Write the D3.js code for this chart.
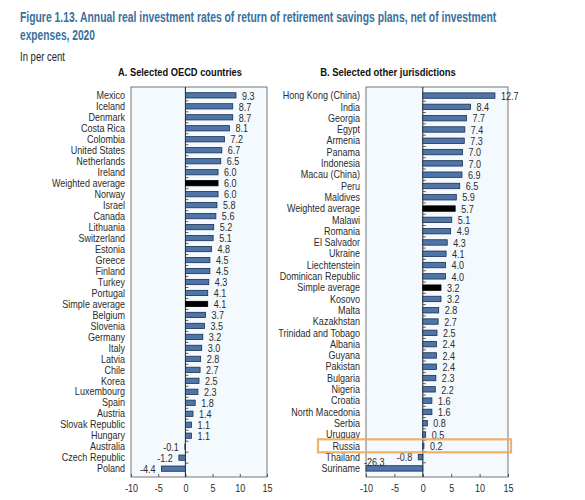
<!DOCTYPE html>
<html lang="en">
<head>
    <meta charset="UTF-8">
    <title>Figure 1.13</title>
    <style>
        body { margin: 0; background: #ffffff; }
        svg text { font-family: "Liberation Sans", Arial, sans-serif; }
    </style>
</head>
<body>
    <div id="chart"></div>

    <script src="https://d3js.org/d3.v7.min.js"></script>
    <script>
        // Panel A: selected OECD countries
        const oecdNames = ["Mexico", "Iceland", "Denmark", "Costa Rica", "Colombia", "United States",
            "Netherlands", "Ireland", "Weighted average", "Norway", "Israel", "Canada", "Lithuania",
            "Switzerland", "Estonia", "Greece", "Finland", "Turkey", "Portugal", "Simple average",
            "Belgium", "Slovenia", "Germany", "Italy", "Latvia", "Chile", "Korea", "Luxembourg",
            "Spain", "Austria", "Slovak Republic", "Hungary", "Australia", "Czech Republic", "Poland"];
        const oecdValues = [9.3, 8.7, 8.7, 8.1, 7.2, 6.7, 6.5, 6.0, 6.0, 6.0, 5.8, 5.6, 5.2, 5.1, 4.8,
            4.5, 4.5, 4.3, 4.1, 4.1, 3.7, 3.5, 3.2, 3.0, 2.8, 2.7, 2.5, 2.3, 1.8, 1.4, 1.1, 1.1,
            -0.1, -1.2, -4.4];

        // Panel B: selected other jurisdictions
        const otherNames = ["Hong Kong (China)", "India", "Georgia", "Egypt", "Armenia", "Panama",
            "Indonesia", "Macau (China)", "Peru", "Maldives", "Weighted average", "Malawi", "Romania",
            "El Salvador", "Ukraine", "Liechtenstein", "Dominican Republic", "Simple average", "Kosovo",
            "Malta", "Kazakhstan", "Trinidad and Tobago", "Albania", "Guyana", "Pakistan", "Bulgaria",
            "Nigeria", "Croatia", "North Macedonia", "Serbia", "Uruguay", "Russia", "Thailand", "Suriname"];
        const otherValues = [12.7, 8.4, 7.7, 7.4, 7.3, 7.0, 7.0, 6.9, 6.5, 5.9, 5.7, 5.1, 4.9, 4.3,
            4.1, 4.0, 4.0, 3.2, 3.2, 2.8, 2.7, 2.5, 2.4, 2.4, 2.4, 2.3, 2.2, 1.6, 1.6, 0.8, 0.5,
            0.2, -0.8, -26.3];

        const xTicks = [-10, -5, 0, 5, 10, 15];
        const highlighted = "Russia";

        // plain hyphen for negatives, like the original
        const loc = d3.formatLocale({ decimal: ".", thousands: ",", grouping: [3], currency: ["", ""], minus: "-" });
        const fmtVal = loc.format(".1f");
        const fmtTick = loc.format("d");

        const width = 585, height = 500;
        const svg = d3.select("#chart").append("svg")
            .attr("width", width)
            .attr("height", height);

        const titleColor = "#3a6f9d";
        const textColor = "#2b2b2b";
        const narrow = 0.86;

        // squeeze text horizontally around its anchor (no narrow font installed)
        function squeeze(sel, factor, target) {
            sel.each(function() {
                const t = d3.select(this);
                const x = +t.attr("x") || 0, y = +t.attr("y") || 0;
                const w = this.getComputedTextLength();
                const s = target ? target / w : factor;
                t.attr("x", 0).attr("y", 0)
                 .attr("transform", `translate(${x},${y}) scale(${s},1)`);
            });
        }

        // Title block
        svg.append("text")
            .attr("x", 20).attr("y", 22)
            .attr("fill", titleColor)
            .attr("font-size", 15).attr("font-weight", "bold")
            .text("Figure 1.13. Annual real investment rates of return of retirement savings plans, net of investment")
            .call(squeeze, null, 477);
        svg.append("text")
            .attr("x", 20).attr("y", 40)
            .attr("fill", titleColor)
            .attr("font-size", 15).attr("font-weight", "bold")
            .text("expenses, 2020")
            .call(squeeze, null, 75);
        svg.append("text")
            .attr("x", 20).attr("y", 61)
            .attr("fill", "#222")
            .attr("font-size", 12.5)
            .text("In per cent")
            .call(squeeze, null, 45);

        function drawPanel(opts) {
            const { names, values, left, right, title, titleX, titleW } = opts;
            const top = 87, bottom = 477;

            const x = d3.scaleLinear().domain([-10, 15]).range([left, right]);
            const y = d3.scaleBand().domain(names).range([top, bottom]).padding(0.52);
            const x0 = x(0);

            const g = svg.append("g");

            // panel title
            g.append("text")
                .attr("x", titleX).attr("y", 76)
                .attr("text-anchor", "middle")
                .attr("font-size", 10.5).attr("font-weight", "bold")
                .attr("fill", "#111")
                .text(title)
                .call(squeeze, null, titleW);

            // plot background
            g.append("rect")
                .attr("x", left).attr("y", top)
                .attr("width", right - left).attr("height", bottom - top)
                .attr("fill", "#f3f9fd")
                .attr("stroke", "#555").attr("stroke-width", 0.8);

            // bottom axis with inward ticks
            const xAxis = g.append("g")
                .attr("transform", `translate(0,${bottom})`)
                .call(d3.axisBottom(x).tickValues(xTicks).tickSize(-3).tickPadding(8).tickFormat(fmtTick));
            xAxis.select(".domain").remove();
            xAxis.selectAll(".tick line").attr("stroke", "#555");
            xAxis.selectAll(".tick text")
                .attr("font-size", 10.5).attr("fill", textColor)
                .style("font-family", "'Liberation Sans', Arial, sans-serif")
                .call(squeeze, narrow);

            // zero line
            g.append("line")
                .attr("x1", x0).attr("x2", x0)
                .attr("y1", top).attr("y2", bottom)
                .attr("stroke", "#222").attr("stroke-width", 1);

            // category boundary ticks on the zero line
            const gap = (y.step() - y.bandwidth()) / 2;
            g.selectAll(".ctick")
                .data(names.slice(0, -1))
                .join("line")
                .attr("x1", x0).attr("x2", x0 + 3)
                .attr("y1", d => y(d) + y.bandwidth() + gap)
                .attr("y2", d => y(d) + y.bandwidth() + gap)
                .attr("stroke", "#333").attr("stroke-width", 0.8);

            const rows = names.map((n, i) => ({ name: n, value: values[i] }));
            const clip = v => Math.max(v, -10);

            // bars
            g.selectAll(".bar")
                .data(rows)
                .join("rect")
                .attr("x", d => x(Math.min(0, clip(d.value))))
                .attr("y", d => y(d.name))
                .attr("width", d => Math.abs(x(clip(d.value)) - x0))
                .attr("height", y.bandwidth())
                .attr("fill", d => d.name.includes("average") ? "#000000" : "#4f74a8")
                .attr("stroke", d => d.name.includes("average") ? "#000000" : "#1c2f4d")
                .attr("stroke-width", 0.8);

            // category labels
            g.selectAll(".cat")
                .data(rows)
                .join("text")
                .attr("x", left - 6)
                .attr("y", d => y(d.name) + y.bandwidth() / 2 + 3.7)
                .attr("text-anchor", "end")
                .attr("font-size", 10.5)
                .attr("fill", textColor)
                .text(d => d.name)
                .call(squeeze, narrow);

            // value labels (off-scale values sit at the left edge, nudged up)
            g.selectAll(".val")
                .data(rows)
                .join("text")
                .attr("x", d => d.value < -10 ? x(-10) - 2 : (d.value >= 0 ? x(d.value) + 6 : x(d.value) - 6))
                .attr("y", d => y(d.name) + y.bandwidth() / 2 + (d.value < -10 ? -2 : 4.2))
                .attr("text-anchor", d => d.value < -10 ? "start" : (d.value >= 0 ? "start" : "end"))
                .attr("font-size", 10.5)
                .attr("fill", textColor)
                .text(d => fmtVal(d.value))
                .call(squeeze, narrow);

            return { x, y, g };
        }

        drawPanel({
            names: oecdNames, values: oecdValues,
            left: 131, right: 267,
            title: "A. Selected OECD countries", titleX: 180, titleW: 124
        });

        const pB = drawPanel({
            names: otherNames, values: otherValues,
            left: 366, right: 508,
            title: "B. Selected other jurisdictions", titleX: 388, titleW: 136
        });

        // highlight box around Russia
        const yc = pB.y(highlighted) + pB.y.bandwidth() / 2;
        svg.append("rect")
            .attr("x", 318).attr("y", yc - 6.5)
            .attr("width", 193).attr("height", 13)
            .attr("fill", "none")
            .attr("stroke", "#eeaa5c").attr("stroke-width", 2.2)
            .attr("opacity", 0.9);
    </script>
</body>
</html>
